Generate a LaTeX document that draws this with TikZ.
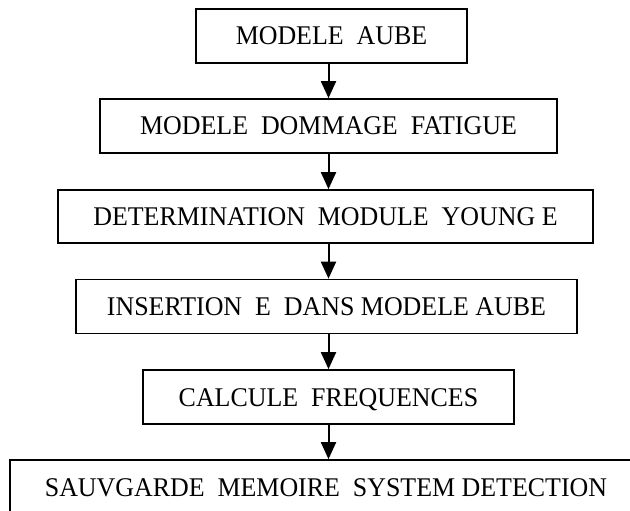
\documentclass[tikz,border=0pt]{standalone}
\usepackage{fontspec}
\setmainfont{Liberation Serif}[FakeStretch=0.96]
\usetikzlibrary{arrows.meta}
\begin{document}
\begin{tikzpicture}[x=1pt,y=-1pt,
  stepbox/.style={draw, line width=1.7pt, minimum height=54pt, inner sep=0pt,
    font=\fontsize{27}{31}\selectfont, text height=18pt, text depth=0pt},
  arr/.style={line width=2pt, -{Triangle[length=17pt,width=15pt]}}]
\useasboundingbox (0,0) rectangle (630,511);
\clip (0,0) rectangle (630,511);
\fill[white] (0,0) rectangle (630,511);
\coordinate (ax) at (328.5,0);
\node[stepbox, minimum width=271pt] (b1) at (331.5,36) {MODELE\ \ AUBE};
\node[stepbox, minimum width=457pt] (b2) at (328.5,126) {MODELE\ \ DOMMAGE\ \ FATIGUE};
\node[stepbox, minimum width=535pt, minimum height=53pt] (b3) at (325.5,216.5) {DETERMINATION\ \ MODULE\ \ YOUNG E};
\node[stepbox, minimum width=501pt] (b4) at (326.5,306.5) {INSERTION\ \ E\ \ DANS MODELE AUBE};
\node[stepbox, minimum width=371pt] (b5) at (328.5,397) {CALCULE\ \ FREQUENCES};
\node[stepbox, minimum width=632pt] (b6) at (326,487) {SAUVGARDE\ \ MEMOIRE\ \ SYSTEM DETECTION};
\draw[arr] (b1.south -| ax) -- (b2.north -| ax);
\draw[arr] (b2.south -| ax) -- (b3.north -| ax);
\draw[arr] (b3.south -| ax) -- (b4.north -| ax);
\draw[arr] (b4.south -| ax) -- (b5.north -| ax);
\draw[arr] (b5.south -| ax) -- (b6.north -| ax);
\end{tikzpicture}
\end{document}
